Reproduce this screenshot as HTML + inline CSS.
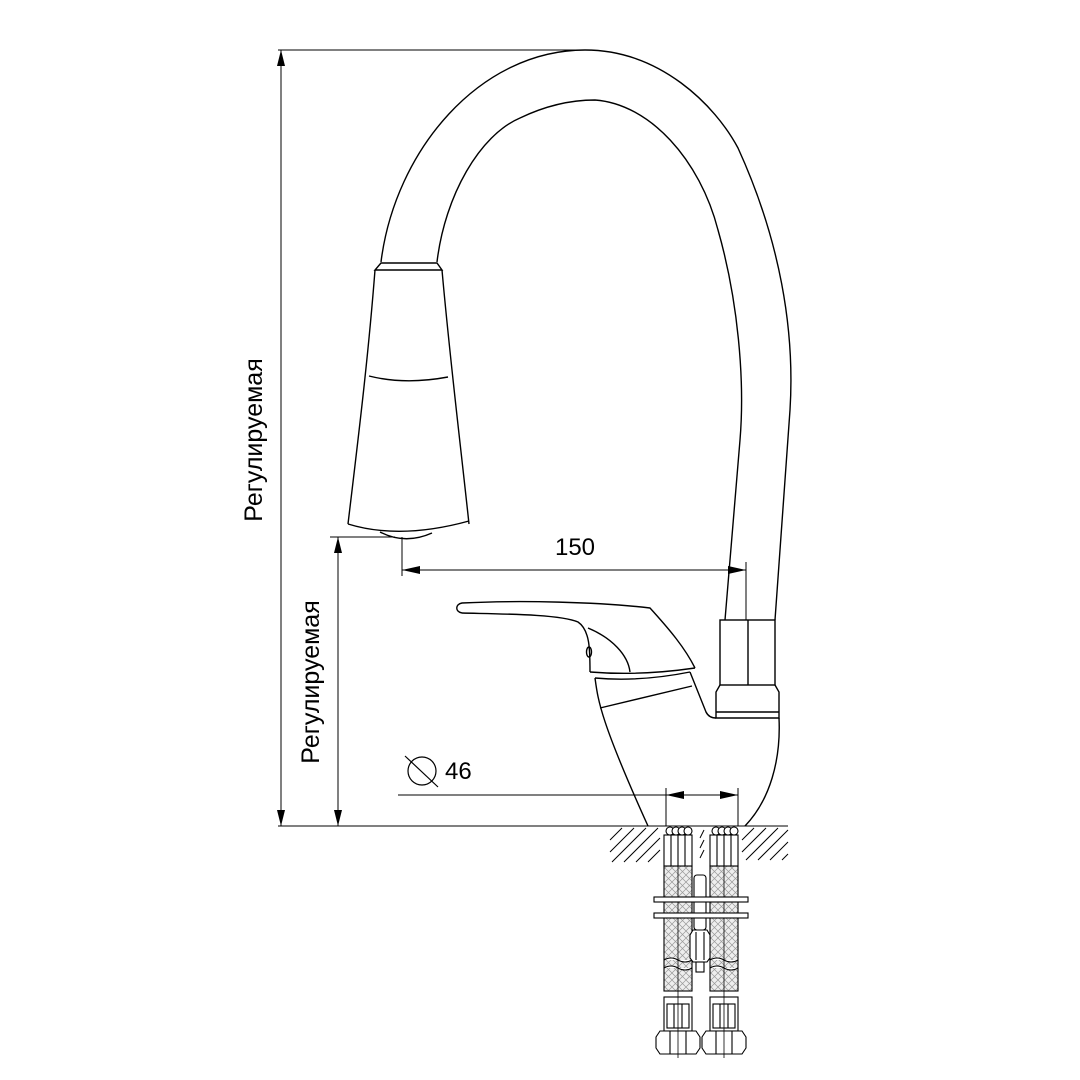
<!DOCTYPE html>
<html><head><meta charset="utf-8"><style>
html,body{margin:0;padding:0;background:#fff;}
svg{display:block;}
text{font-family:"Liberation Sans",sans-serif;fill:#000;}
</style></head><body>
<svg width="1080" height="1080" viewBox="0 0 1080 1080" xmlns="http://www.w3.org/2000/svg">
<defs>
<pattern id="br" width="7" height="7" patternUnits="userSpaceOnUse">
<rect width="7" height="7" fill="#eeeeee"/>
<path d="M0 0L7 7M7 0L0 7" stroke="#999" stroke-width="0.7"/>
</pattern>
</defs>
<g fill="none" stroke="#000" stroke-width="1.4">
<line x1="278" y1="50" x2="585" y2="50" stroke-width="1"/>
<line x1="281" y1="50" x2="281" y2="826" stroke-width="1"/>
<line x1="278" y1="826" x2="605" y2="826" stroke-width="1"/>
<line x1="330" y1="537" x2="395" y2="537" stroke-width="1"/>
<line x1="338" y1="537" x2="338" y2="826" stroke-width="1"/>
<path d="M381,262 C395,150 480,50 585,50 C660,50 715,105 738,148 C780,240 795,330 790,410 L775,620"/>
<path d="M437,262 C445,195 480,135 520,118 C545,106 570,100 595,100 C650,104 700,160 718,230 C738,300 745,380 740,440 L725,620"/>
<path d="M381,263 L437,263 L442,270 L375,270 Z"/>
<path d="M375,270 C368,360 358,440 348,524"/>
<path d="M442,270 C450,360 460,440 469,524"/>
<path d="M348,524 Q400,540 469,521"/>
<path d="M380,532 Q405,545 432,533"/>
<path d="M369,376 Q405,385 448,377"/>
<line x1="402" y1="537" x2="402" y2="576" stroke-width="1"/>
<line x1="746" y1="562" x2="746" y2="620" stroke-width="1"/>
<line x1="402" y1="570" x2="746" y2="570" stroke-width="1"/>
<rect x="720" y="620" width="55" height="65"/>
<line x1="748" y1="620" x2="748" y2="685"/>
<path d="M720,685 L716,692 L716,718 L779,718 L779,692 L775,685"/>
<line x1="716" y1="712" x2="779" y2="712"/>
<path d="M462,613 C455,612 455,604 462,603 C520,600 600,602 650,608 C670,630 685,648 695,668"/>
<path d="M462,613 C500,614 560,614 578,622 C590,630 590,650 590,672"/>
<path d="M588,628 C612,638 628,655 630,672"/>
<ellipse cx="589" cy="652" rx="2.5" ry="5"/>
<path d="M590,672 Q640,676 695,668"/>
<path d="M595,678 Q640,682 690,672"/>
<path d="M595,678 C598,700 600,720 648,826"/>
<line x1="600" y1="708" x2="692" y2="686"/>
<path d="M690,672 L706,712 Q709,718 716,718"/>
<path d="M779,718 C781,760 770,800 745,826"/>
<circle cx="422" cy="771" r="14" stroke-width="1.2"/>
<line x1="405" y1="756" x2="438" y2="787" stroke-width="1.2"/>
<line x1="398" y1="795" x2="738" y2="795" stroke-width="1"/>
<line x1="666" y1="788" x2="666" y2="826" stroke-width="1"/>
<line x1="738" y1="788" x2="738" y2="826" stroke-width="1"/>
<line x1="605" y1="826" x2="788" y2="826" stroke-width="1"/>
<g stroke-width="1">
<line x1="612" y1="862" x2="646" y2="828"/><line x1="624" y1="862" x2="658" y2="828"/>
<line x1="636" y1="862" x2="660" y2="838"/><line x1="648" y1="862" x2="660" y2="850"/>
<line x1="610" y1="852" x2="634" y2="828"/><line x1="610" y1="840" x2="622" y2="828"/>
<line x1="742" y1="852" x2="766" y2="828"/><line x1="746" y1="860" x2="778" y2="828"/>
<line x1="758" y1="860" x2="788" y2="830"/><line x1="770" y1="860" x2="788" y2="842"/>
<line x1="782" y1="860" x2="788" y2="854"/><line x1="742" y1="840" x2="754" y2="828"/>
<line x1="700" y1="838" x2="704" y2="830"/><line x1="700" y1="848" x2="704" y2="840"/>
<line x1="700" y1="858" x2="704" y2="850"/>
</g>
</g>
<g fill="#000">
<path d="M281,50 L277,66 L285,66 Z"/>
<path d="M281,826 L277,810 L285,810 Z"/>
<path d="M338,537 L334,553 L342,553 Z"/>
<path d="M338,826 L334,810 L342,810 Z"/>
<path d="M402,570 L420,566 L420,574 Z"/>
<path d="M746,570 L728,566 L728,574 Z"/>
<path d="M666,795 L684,791 L684,799 Z"/>
<path d="M738,795 L720,791 L720,799 Z"/>
</g>
<g stroke="#000" stroke-width="1.1">
<g id="hose">
<rect x="664" y="866" width="28" height="125" fill="url(#br)"/>
<path d="M664,960 q7,-4 14,0 q7,4 14,0 M664,968 q7,-4 14,0 q7,4 14,0" fill="#fff"/>
<rect x="664" y="835" width="28" height="31" fill="#fff"/>
<line x1="671" y1="835" x2="671" y2="866"/><line x1="678" y1="835" x2="678" y2="866"/><line x1="685" y1="835" x2="685" y2="866"/>
<g fill="#fff"><circle cx="670" cy="831" r="4"/><circle cx="676" cy="831" r="4"/><circle cx="682" cy="831" r="4"/><circle cx="688" cy="831" r="4"/></g>
<rect x="664" y="997" width="28" height="34" fill="#fff"/>
<rect x="667" y="1004" width="22" height="24" fill="none"/>
<line x1="674" y1="1004" x2="674" y2="1028"/><line x1="682" y1="1004" x2="682" y2="1028"/>
<path d="M660,1031 L696,1031 L700,1037 L700,1048 L696,1054 L660,1054 L656,1048 L656,1037 Z" fill="#fff"/>
<line x1="670" y1="1031" x2="670" y2="1054"/><line x1="686" y1="1031" x2="686" y2="1054"/>
<line x1="678" y1="850" x2="678" y2="1058" stroke-width="0.8"/>
</g>
<use href="#hose" x="46"/>
<rect x="694" y="875" width="12" height="55" rx="3" fill="#fff"/>
<rect x="654" y="897" width="94" height="5" fill="#fff"/>
<rect x="654" y="913" width="94" height="5" fill="#fff"/>
<path d="M693,930 L707,930 L710,935 L710,958 L707,962 L693,962 L690,958 L690,935 Z" fill="#fff"/>
<line x1="696" y1="932" x2="696" y2="960"/><line x1="704" y1="932" x2="704" y2="960"/>
<rect x="696" y="962" width="8" height="10" fill="#fff"/>
</g>
<text x="575" y="555" font-size="24" text-anchor="middle">150</text>
<text x="445" y="779" font-size="24">46</text>
<text transform="translate(262,440) rotate(-90)" font-size="25" text-anchor="middle">Регулируемая</text>
<text transform="translate(319,682) rotate(-90)" font-size="25" text-anchor="middle">Регулируемая</text>
</svg>
</body></html>
